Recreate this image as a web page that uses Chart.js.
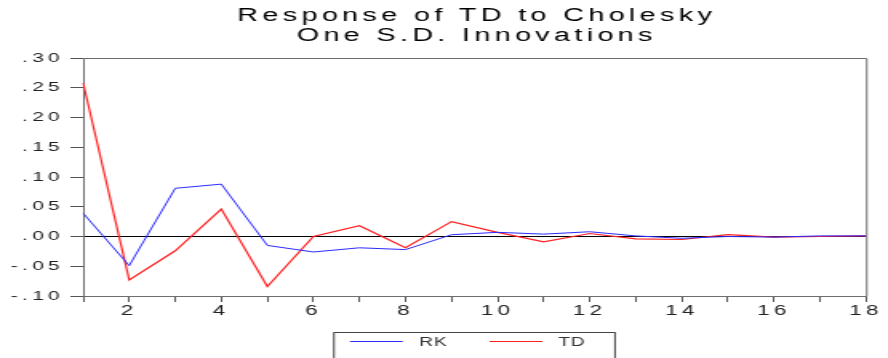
<!DOCTYPE html>
<html>
<head>
<meta charset="utf-8">
<script src="https://cdn.jsdelivr.net/npm/chart.js@4/dist/chart.umd.min.js"></script>
<style>
  html, body { margin: 0; padding: 0; background: #fff; }
  /* the reference graph is stretched sideways, so draw narrow and widen */
  #wrap { width: 555px; height: 358px; transform: scaleX(1.6); transform-origin: 0 0; }
</style>
</head>
<body>
<div id="wrap"><canvas id="irfChart"></canvas></div>
<script>
const periods = ['1', '2', '3', '4', '5', '6', '7', '8', '9', '10', '11', '12', '13', '14', '15', '16', '17', '18'];
const xTickLabels = ['', '2', '', '4', '', '6', '', '8', '', '10', '', '12', '', '14', '', '16', '', '18'];
const rkValues = [0.039, -0.049, 0.081, 0.088, -0.015, -0.026, -0.019, -0.022, 0.003, 0.007, 0.004, 0.008, 0.001, -0.003, 0.000, -0.001, 0.001, 0.001];
const tdValues = [0.258, -0.073, -0.024, 0.046, -0.084, 0.000, 0.018, -0.019, 0.025, 0.007, -0.009, 0.005, -0.004, -0.005, 0.003, -0.001, 0.000, 0.001];
const yTickValues = [-0.10, -0.05, 0.00, 0.05, 0.10, 0.15, 0.20, 0.25, 0.30];
const yTickLabels = ['-.10', '-.05', '.00', '.05', '.10', '.15', '.20', '.25', '.30'];
const seriesNames = ['RK', 'TD'];
const seriesColors = ['#2b2bff', '#ff2020'];
const titleLines = ['Response of TD to Cholesky', 'One S.D. Innovations'];

const FONT = '"Liberation Sans", Arial, sans-serif';

const spacing = {
    id: 'spacing',
    beforeUpdate(chart) { chart.ctx.letterSpacing = '2.7px'; },
    beforeDraw(chart) { chart.ctx.letterSpacing = '2.7px'; }
};

// title centred over the plot, frame, and the boxed legend under it
const decorations = {
    id: 'decorations',
    afterDraw(chart) {
        const ctx = chart.ctx;
        const a = chart.chartArea;
        ctx.save();

        ctx.fillStyle = '#000';
        ctx.font = '18px ' + FONT;
        ctx.textAlign = 'center';
        ctx.textBaseline = 'middle';
        const cx = (a.left + a.right) / 2 + 1.35;
        ctx.fillText(titleLines[0], cx, 16);
        ctx.fillText(titleLines[1], cx, 36);

        ctx.strokeStyle = '#6e6e6e';
        ctx.lineWidth = 1;
        ctx.beginPath();
        ctx.moveTo(a.left, a.top + 0.5);
        ctx.lineTo(a.right + 0.5, a.top + 0.5);
        ctx.lineTo(a.right + 0.5, a.bottom);
        ctx.stroke();

        ctx.strokeStyle = '#444';
        ctx.strokeRect(208.75, 332.5, 175.65, 40);

        const items = [
            { x: 218.75, text: 262 },
            { x: 306, text: 349 }
        ];
        ctx.letterSpacing = '0.5px';
        ctx.font = '12px ' + FONT;
        ctx.textBaseline = 'middle';
        ctx.textAlign = 'left';
        items.forEach((it, i) => {
            ctx.strokeStyle = seriesColors[i];
            ctx.lineWidth = 1.2;
            ctx.beginPath();
            ctx.moveTo(it.x, 341.5);
            ctx.lineTo(it.x + 33, 341.5);
            ctx.stroke();
            ctx.fillStyle = '#333';
            ctx.fillText(seriesNames[i], it.text, 342.5);
        });
        ctx.restore();
    }
};

const ctx = document.getElementById('irfChart').getContext('2d');

new Chart(ctx, {
    type: 'line',
    data: {
        labels: periods,
        datasets: [
            { label: seriesNames[0], data: rkValues, borderColor: seriesColors[0], borderWidth: 1, pointRadius: 0, tension: 0 },
            { label: seriesNames[1], data: tdValues, borderColor: seriesColors[1], borderWidth: 1.2, pointRadius: 0, tension: 0 }
        ]
    },
    options: {
        responsive: true,
        maintainAspectRatio: false,
        animation: false,
        devicePixelRatio: 1,
        layout: { padding: { left: 0, right: 13.75, top: 58, bottom: 0 } },
        plugins: {
            legend: { display: false },
            tooltip: { enabled: false },
            title: { display: false }
        },
        scales: {
            x: {
                type: 'category',
                offset: false,
                grid: { display: true, drawOnChartArea: false, tickLength: 6, tickColor: '#555', color: '#555' },
                border: { display: true, color: '#6e6e6e', width: 1 },
                ticks: {
                    autoSkip: false,
                    maxRotation: 0,
                    padding: 1,
                    color: '#222',
                    font: { family: FONT, size: 14 },
                    callback: (v, i) => xTickLabels[i]
                },
                afterFit(scale) { scale.height = 62; }
            },
            y: {
                min: -0.10,
                max: 0.30,
                afterBuildTicks(scale) { scale.ticks = yTickValues.map(v => ({ value: v })); },
                grid: {
                    drawOnChartArea: true,
                    tickLength: 8,
                    tickColor: '#555',
                    color: c => (c.tick && Math.abs(c.tick.value) < 1e-9 ? '#000' : 'rgba(0,0,0,0)')
                },
                border: { display: true, color: '#6e6e6e', width: 1 },
                ticks: {
                    padding: 4,
                    color: '#222',
                    font: { family: FONT, size: 13 },
                    callback: (v, i) => yTickLabels[i]
                },
                afterFit(scale) { scale.width = 52; }
            }
        }
    },
    plugins: [spacing, decorations]
});
</script>
</body>
</html>
